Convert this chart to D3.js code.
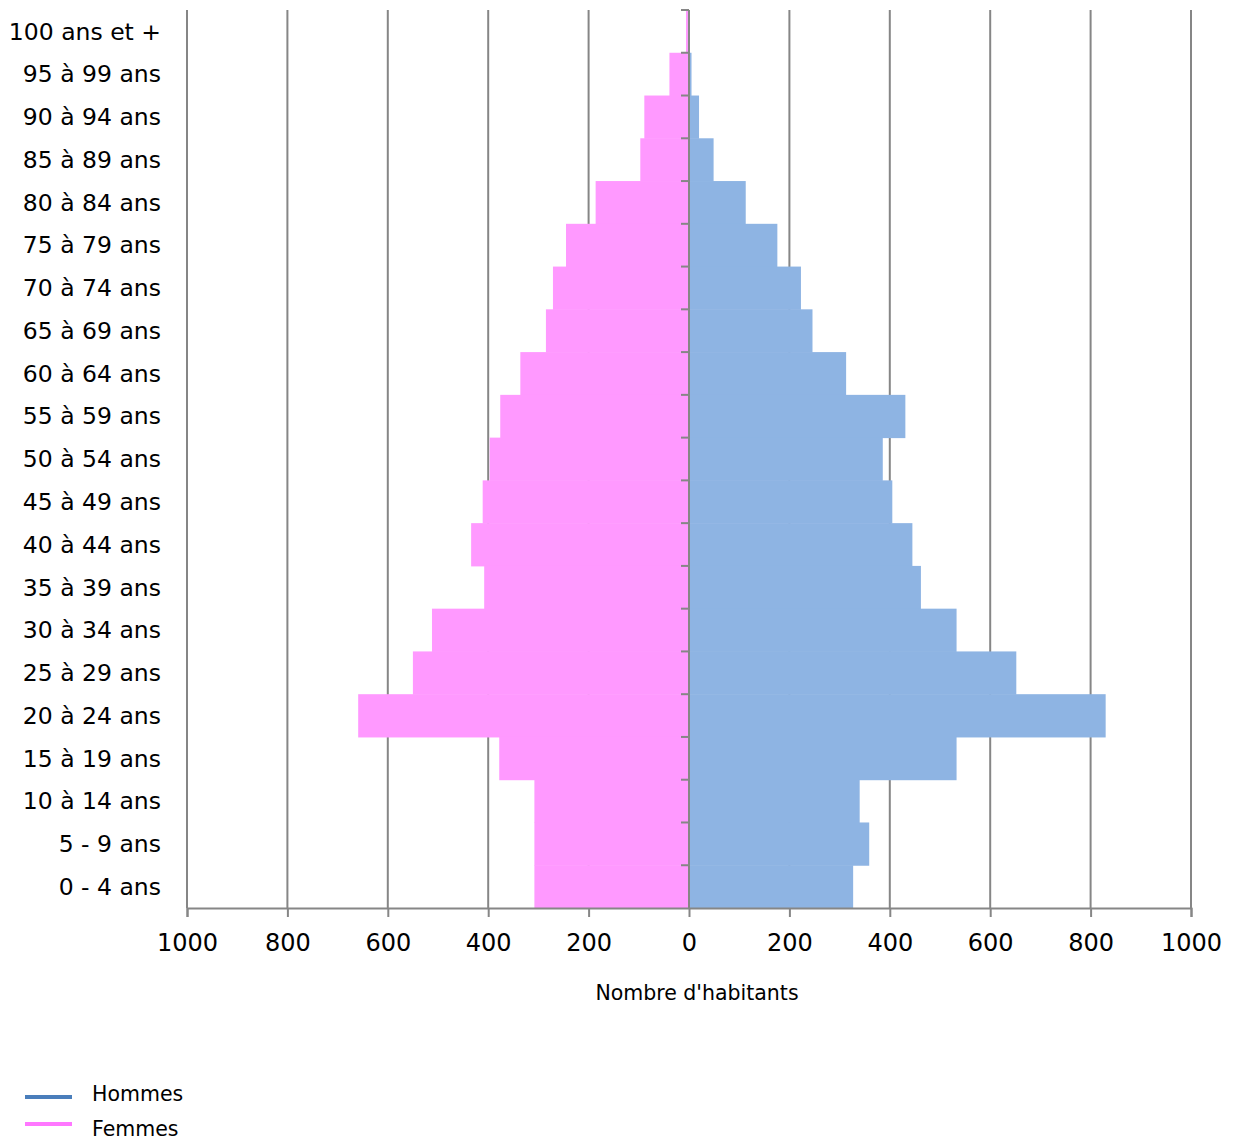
<!DOCTYPE html>
<html>
<head>
<meta charset="utf-8">
<script src="https://cdn.jsdelivr.net/npm/d3@7"></script>
<style>
  body { margin: 0; background: #fff; }
  svg text { font-family: "DejaVu Sans", sans-serif; fill: #000; }
</style>
</head>
<body>
<svg id="chart"></svg>
<script>
// classes d'age, du haut vers le bas
let ages = ["100 ans et +", "95 à 99 ans", "90 à 94 ans", "85 à 89 ans", "80 à 84 ans",
  "75 à 79 ans", "70 à 74 ans", "65 à 69 ans", "60 à 64 ans", "55 à 59 ans",
  "50 à 54 ans", "45 à 49 ans", "40 à 44 ans", "35 à 39 ans", "30 à 34 ans",
  "25 à 29 ans", "20 à 24 ans", "15 à 19 ans", "10 à 14 ans", "5 - 9 ans", "0 - 4 ans"];
let femmes = [6, 39, 89, 97, 186, 245, 271, 285, 336, 376, 397, 411, 434, 408, 512, 550, 659, 378, 308, 308, 308];
let hommes = [0, 5, 20, 49, 113, 176, 223, 246, 313, 431, 386, 405, 445, 462, 533, 652, 830, 533, 340, 359, 327];
let ticks = [-1000, -800, -600, -400, -200, 0, 200, 400, 600, 800, 1000];

var svgWidth = 1236, svgHeight = 1142;
var plotLeft = 187, plotRight = 1191, plotTop = 10, plotBottom = 908;
var grey = "#868686";

var svg = d3.select("#chart")
    .attr("width", svgWidth)
    .attr("height", svgHeight);

var x = d3.scaleLinear().domain([-1000, 1000]).range([plotLeft, plotRight]);
var y = d3.scaleBand().domain(ages).range([plotTop, plotBottom]).padding(0);

// grille verticale
svg.append("g")
  .selectAll("line")
  .data(ticks.filter(t => t != 0))
  .enter()
  .append("line")
  .attr("x1", d => x(d)).attr("x2", d => x(d))
  .attr("y1", plotTop).attr("y2", plotBottom)
  .attr("stroke", grey)
  .attr("stroke-width", 2);

// barres femmes (a gauche)
svg.append("g")
  .selectAll("rect")
  .data(femmes)
  .enter()
  .append("rect")
  .attr("x", d => x(-d))
  .attr("y", (d, i) => y(ages[i]))
  .attr("width", d => x(0) - x(-d))
  .attr("height", y.bandwidth() + 0.5)
  .attr("fill", "#FF99FF");

// barres hommes (a droite)
svg.append("g")
  .selectAll("rect")
  .data(hommes)
  .enter()
  .append("rect")
  .attr("x", x(0))
  .attr("y", (d, i) => y(ages[i]))
  .attr("width", d => x(d) - x(0))
  .attr("height", y.bandwidth() + 0.5)
  .attr("fill", "#8EB4E3");

// axe vertical central avec les petites graduations
var gy = svg.append("g").attr("transform", "translate(" + x(0) + ",0)");
gy.append("line")
  .attr("x1", 0).attr("x2", 0)
  .attr("y1", plotTop).attr("y2", plotBottom)
  .attr("stroke", grey).attr("stroke-width", 2);
var bounds = ages.map(a => y(a));
gy.selectAll(".tk")
  .data(bounds)
  .enter()
  .append("line")
  .attr("x1", -8).attr("x2", 0)
  .attr("y1", d => d).attr("y2", d => d)
  .attr("stroke", grey).attr("stroke-width", 2);

// libelles des classes d'age
svg.append("g")
  .selectAll("text")
  .data(ages)
  .enter()
  .append("text")
  .attr("x", 161)
  .attr("y", d => y(d) + y.bandwidth() / 2)
  .attr("dy", "0.35em")
  .attr("text-anchor", "end")
  .style("font-size", "23.5px")
  .text(d => d);

// axe horizontal
var xAxis = d3.axisBottom(x)
  .tickValues(ticks)
  .tickSize(9)
  .tickPadding(17)
  .tickFormat(d => Math.abs(d));
var gx = svg.append("g")
  .attr("transform", "translate(0," + plotBottom + ")")
  .call(xAxis);
gx.select(".domain").attr("stroke", grey).attr("stroke-width", 2);
gx.selectAll(".tick line").attr("stroke", grey).attr("stroke-width", 2);
gx.selectAll(".tick text")
  .style("font-size", "24px")
  .style("font-family", "DejaVu Sans, sans-serif")
  .attr("fill", "#000");

svg.append("text")
  .attr("x", 697)
  .attr("y", 1000)
  .attr("text-anchor", "middle")
  .style("font-size", "20.5px")
  .text("Nombre d'habitants");

// legende
var legend = [["Hommes", "#4A7EBB"], ["Femmes", "#FF77FF"]];
var lg = svg.append("g");
lg.selectAll("line")
  .data(legend)
  .enter()
  .append("line")
  .attr("x1", 25).attr("x2", 72)
  .attr("y1", (d, i) => 1097 + i * 27)
  .attr("y2", (d, i) => 1097 + i * 27)
  .attr("stroke", d => d[1])
  .attr("stroke-width", 4);
lg.selectAll("text")
  .data(legend)
  .enter()
  .append("text")
  .attr("x", 92)
  .attr("y", (d, i) => 1094 + i * 35)
  .attr("dy", "0.35em")
  .style("font-size", "20.5px")
  .text(d => d[0]);
</script>
</body>
</html>
